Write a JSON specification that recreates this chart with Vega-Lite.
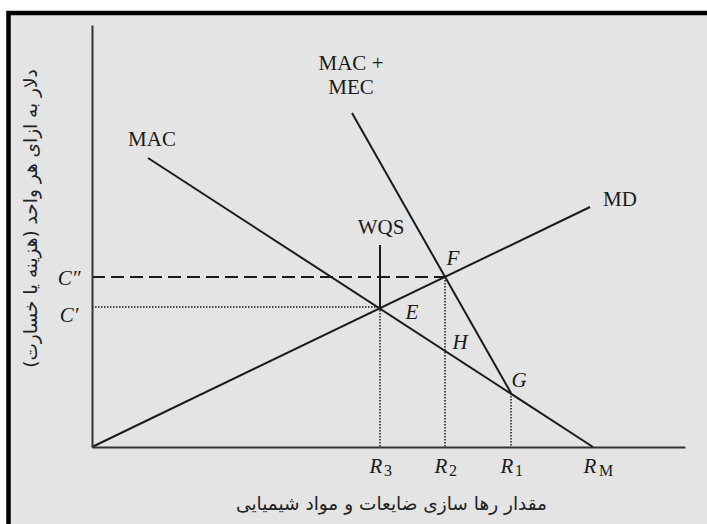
{
  "$schema": "https://vega.github.io/schema/vega-lite/v6.json",
  "width": 593,
  "height": 422,
  "autosize": "none",
  "padding": {"left": 92, "top": 25, "right": 22, "bottom": 77},
  "background": "white",
  "config": {"view": {"stroke": null}},
  "datasets": {
    "frame": [{"x": -83.5, "x2": 650, "y": 434, "y2": -110}],
    "segments": [
      {"curve": "MD", "kind": "solid", "x": 0, "y": 0, "x2": 498, "y2": 240},
      {"curve": "MAC", "kind": "solid", "x": 56, "y": 289, "x2": 501, "y2": 0},
      {"curve": "MAC+MEC", "kind": "solid", "x": 260, "y": 334, "x2": 419, "y2": 54},
      {"curve": "WQS", "kind": "solid", "x": 288, "y": 202, "x2": 288, "y2": 140},
      {"curve": "C''", "kind": "dashed", "x": 0, "y": 170, "x2": 353, "y2": 170},
      {"curve": "C'", "kind": "dotted", "x": 0, "y": 140, "x2": 288, "y2": 140},
      {"curve": "R3", "kind": "dotted", "x": 288, "y": 140, "x2": 288, "y2": 0},
      {"curve": "R2", "kind": "dotted", "x": 353, "y": 170, "x2": 353, "y2": 0},
      {"curve": "R1", "kind": "dotted", "x": 419, "y": 54, "x2": 419, "y2": 0}
    ],
    "labels": [
      {"group": "roman", "x": 60, "y": 307, "text": "MAC"},
      {"group": "roman", "x": 259, "y": 383, "text": "MAC +"},
      {"group": "roman", "x": 259, "y": 359, "text": "MEC"},
      {"group": "roman", "x": 528, "y": 247, "text": "MD"},
      {"group": "roman", "x": 289, "y": 219, "text": "WQS"},
      {"group": "italic", "x": 361, "y": 188, "text": "F"},
      {"group": "italic", "x": 320, "y": 134, "text": "E"},
      {"group": "italic", "x": 368, "y": 104, "text": "H"},
      {"group": "italic", "x": 427, "y": 66, "text": "G"},
      {"group": "italic", "x": -23, "y": 168, "text": "C″"},
      {"group": "italic", "x": -23, "y": 131, "text": "C′"},
      {"group": "italic", "x": 284, "y": -20, "text": "R"},
      {"group": "italic", "x": 349, "y": -20, "text": "R"},
      {"group": "italic", "x": 415, "y": -20, "text": "R"},
      {"group": "italic", "x": 498, "y": -20, "text": "R"},
      {"group": "sub", "x": 296, "y": -24, "text": "3"},
      {"group": "sub", "x": 361, "y": -24, "text": "2"},
      {"group": "sub", "x": 427, "y": -24, "text": "1"},
      {"group": "sub", "x": 514, "y": -24, "text": "M"}
    ]
  },
  "layer": [
    {
      "data": {"name": "frame"},
      "mark": {"type": "rect", "fill": "#e4e4e4", "stroke": "black", "strokeWidth": 4.5},
      "encoding": {
        "x": {"field": "x", "type": "quantitative", "scale": {"domain": [0, 593], "nice": false, "zero": false},
          "axis": {"zindex": 1, "grid": false, "labels": false, "ticks": false, "domainColor": "#333", "domainWidth": 2,
            "title": "مقدار رها سازی ضایعات و مواد شیمیایی", "titleFont": "DejaVu Sans", "titleFontSize": 18.5, "titleFontWeight": "normal", "titleColor": "#222", "titleX": 299, "titleY": 56, "titleAlign": "center", "titleBaseline": "middle"}},
        "x2": {"field": "x2"},
        "y": {"field": "y", "type": "quantitative", "scale": {"domain": [0, 422], "nice": false, "zero": false},
          "axis": {"zindex": 1, "grid": false, "labels": false, "ticks": false, "domainColor": "#333", "domainWidth": 2,
            "title": "دلار به ازای هر واحد (هزینه یا خسارت)", "titleFont": "DejaVu Sans", "titleFontSize": 18.5, "titleFontWeight": "normal", "titleColor": "#222", "titleX": -62, "titleY": 193, "titleAngle": -90, "titleAlign": "center", "titleBaseline": "middle"}},
        "y2": {"field": "y2"}
      }
    },
    {
      "data": {"name": "segments"},
      "transform": [{"filter": "datum.kind === 'solid'"}],
      "mark": {"type": "rule", "color": "#1a1a1a", "strokeWidth": 2},
      "encoding": {
        "x": {"field": "x", "type": "quantitative"},
        "x2": {"field": "x2"},
        "y": {"field": "y", "type": "quantitative"},
        "y2": {"field": "y2"}
      }
    },
    {
      "data": {"name": "segments"},
      "transform": [{"filter": "datum.kind === 'dashed'"}],
      "mark": {"type": "rule", "color": "#1a1a1a", "strokeWidth": 2, "strokeDash": [13, 6]},
      "encoding": {
        "x": {"field": "x", "type": "quantitative"},
        "x2": {"field": "x2"},
        "y": {"field": "y", "type": "quantitative"},
        "y2": {"field": "y2"}
      }
    },
    {
      "data": {"name": "segments"},
      "transform": [{"filter": "datum.kind === 'dotted'"}],
      "mark": {"type": "rule", "color": "#1a1a1a", "strokeWidth": 1.5, "strokeDash": [1.5, 1.5]},
      "encoding": {
        "x": {"field": "x", "type": "quantitative"},
        "x2": {"field": "x2"},
        "y": {"field": "y", "type": "quantitative"},
        "y2": {"field": "y2"}
      }
    },
    {
      "data": {"name": "labels"},
      "transform": [{"filter": "datum.group === 'roman'"}],
      "mark": {"type": "text", "font": "Liberation Serif", "fontSize": 21, "color": "#1a1a1a", "align": "center", "baseline": "middle"},
      "encoding": {
        "x": {"field": "x", "type": "quantitative"},
        "y": {"field": "y", "type": "quantitative"},
        "text": {"field": "text"}
      }
    },
    {
      "data": {"name": "labels"},
      "transform": [{"filter": "datum.group === 'italic'"}],
      "mark": {"type": "text", "font": "Liberation Serif", "fontStyle": "italic", "fontSize": 21, "color": "#1a1a1a", "align": "center", "baseline": "middle"},
      "encoding": {
        "x": {"field": "x", "type": "quantitative"},
        "y": {"field": "y", "type": "quantitative"},
        "text": {"field": "text"}
      }
    },
    {
      "data": {"name": "labels"},
      "transform": [{"filter": "datum.group === 'sub'"}],
      "mark": {"type": "text", "font": "Liberation Serif", "fontSize": 16, "color": "#1a1a1a", "align": "center", "baseline": "middle"},
      "encoding": {
        "x": {"field": "x", "type": "quantitative"},
        "y": {"field": "y", "type": "quantitative"},
        "text": {"field": "text"}
      }
    }
  ]
}
